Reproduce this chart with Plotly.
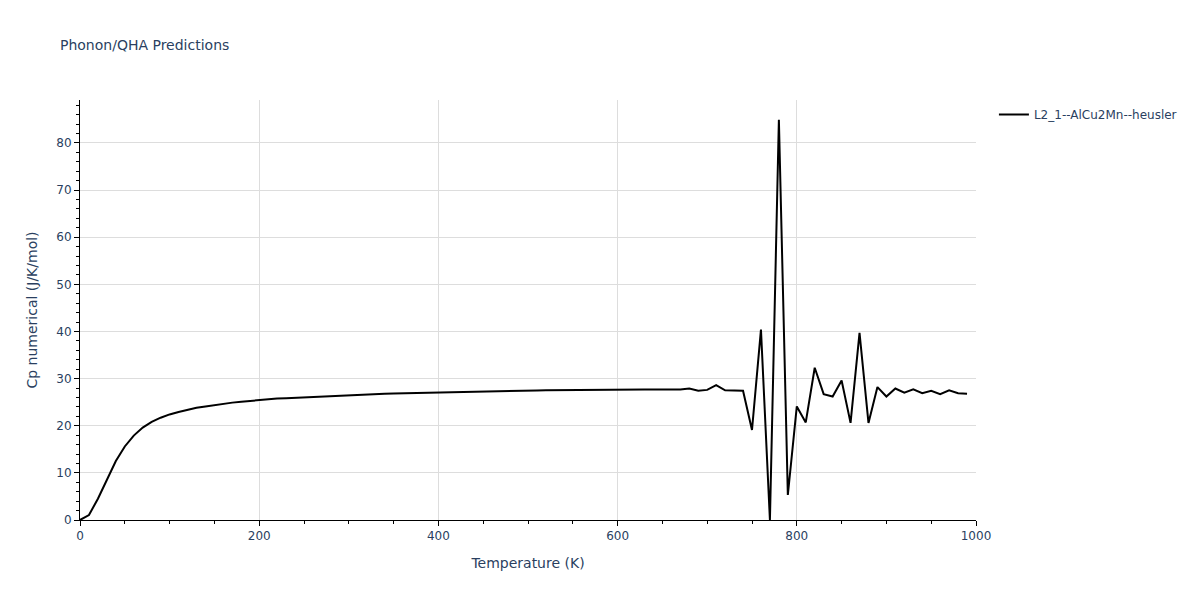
import plotly.graph_objects as go

temperature = list(range(0, 1000, 10))
cp = [
    0.0, 1.06, 4.5, 8.6, 12.5, 15.6, 17.9, 19.6, 20.8, 21.7,
    22.4, 22.9, 23.4, 23.8, 24.1, 24.4, 24.7, 24.9, 25.1, 25.3,
    25.45, 25.6, 25.75, 25.85, 25.95, 26.05, 26.15, 26.25, 26.35, 26.45,
    26.55, 26.6, 26.67, 26.73, 26.79, 26.85, 26.9, 26.95, 27.0, 27.05,
    27.1, 27.15, 27.2, 27.23, 27.26, 27.3, 27.33, 27.36, 27.39, 27.42,
    27.45, 27.48, 27.51, 27.54, 27.57, 27.6, 27.63, 27.66, 27.68, 27.7,
    27.7, 27.7, 27.7, 27.7, 27.7, 27.7, 27.7, 27.7, 27.9, 27.4,
    27.6, 28.6, 27.5, 27.5, 27.4, 19.1, 40.4, 0.0, 84.9, 5.3,
    24.1, 20.7, 32.3, 26.7, 26.2, 29.6, 20.6, 39.7, 20.6, 28.2,
    26.2, 27.9, 27.0, 27.7, 26.9, 27.4, 26.7, 27.5, 26.9, 26.8,
]
series_name = "L2_1--AlCu2Mn--heusler"

fig = go.Figure()
fig.add_trace(go.Scatter(x=temperature, y=cp, mode="lines", name=series_name,
                         line=dict(color="black", width=2)))

axis_common = dict(
    showline=True, linecolor="black", linewidth=1,
    ticks="outside", tickcolor="black", ticklen=5,
    showgrid=True, gridcolor="#dddddd", zeroline=False,
    automargin=False,
    tickfont=dict(size=12),
    minor=dict(ticks="outside", ticklen=3, tickcolor="black", showgrid=False),
)

fig.update_layout(
    width=1184, height=584,
    template="plotly_white",
    margin=dict(l=72, r=216, t=92, b=72, autoexpand=False),
    title=dict(text="Phonon/QHA Predictions", font=dict(size=14), x=0.0439, xanchor="left",
               y=0.9366, yanchor="middle"),
    font=dict(family="DejaVu Sans, Verdana, sans-serif", size=12, color="#2a3f5f"),
    showlegend=True,
    legend=dict(x=1.02, y=1, xanchor="left", yanchor="top", font=dict(size=12)),
    plot_bgcolor="white", paper_bgcolor="white",
    xaxis=dict(title=dict(text="Temperature (K)", font=dict(size=14)), range=[0, 1000], dtick=200,
               **axis_common),
    yaxis=dict(title=dict(text="Cp numerical (J/K/mol)", font=dict(size=14)), range=[0, 89.1], dtick=10,
               **axis_common),
)
fig.update_xaxes(minor=dict(dtick=50))
fig.update_yaxes(minor=dict(dtick=2))

fig.write_html("out.html")
